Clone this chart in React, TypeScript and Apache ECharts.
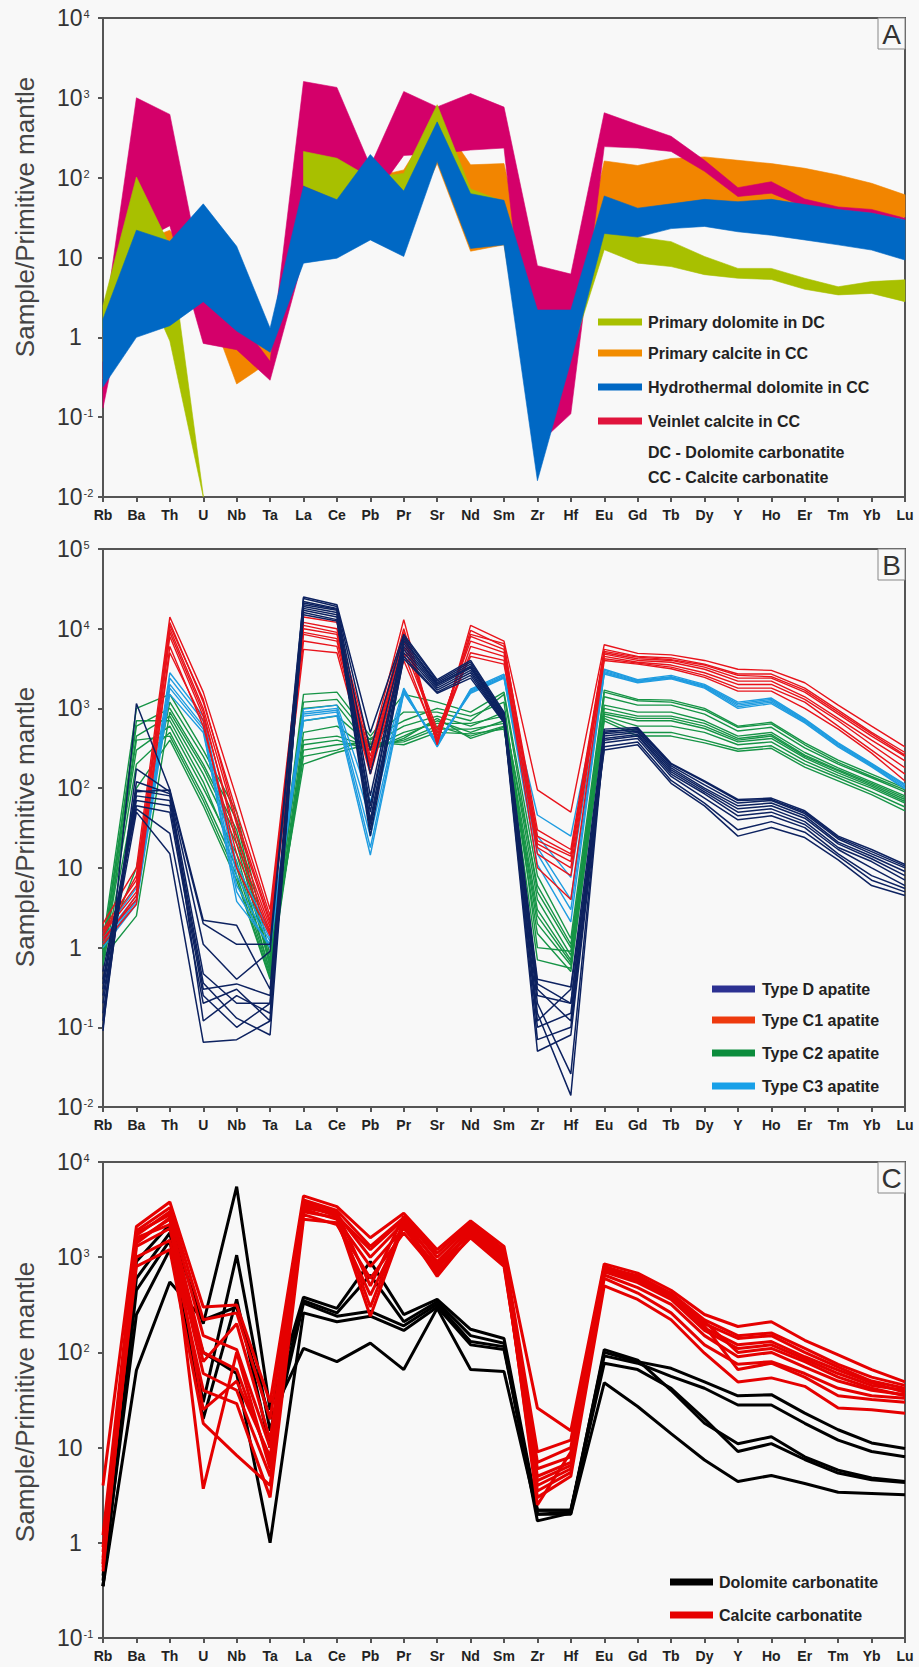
import React, { useEffect, useRef } from "react";
import * as echarts from "echarts";

const ELEMENTS = ["Rb","Ba","Th","U","Nb","Ta","La","Ce","Pb","Pr","Sr","Nd","Sm","Zr","Hf","Eu","Gd","Tb","Dy","Y","Ho","Er","Tm","Yb","Lu"];

// ---------- Panel A : envelopes (low / high) ----------
const dolDC_low  = [0.5, 8, 0.9, 0.01, null, null, 80, 52, 30, 67, 200, 50, 40, 0.05, 0.6, 12.5, 8.5, 7.7, 6.1, 5.5, 5.3, 4, 3.4, 3.55, 2.8];
const dolDC_high = [2.5, 102, 14, 0.0105, null, null, 213, 175, 100, 113, 820, 72, 50, 1, 2, 20, 18, 15.8, 10.3, 7.3, 7.3, 5.5, 4.3, 5, 5.25];
const calCC_low  = [0.3, 3, 2, 3.5, 0.26, 0.5, 10, 12, 20, 20, 150, 12, 14.4, 0.05, 0.6, 17, 18, 24.5, 30, 35, 38, 35, 32, 30, 32];
const calCC_high = [1, 15, 22, 6, 1.5, 1, 120, 100, 100, 125, 600, 145, 150, 2, 2, 162, 142, 174, 182, 165, 150, 131, 108, 85, 61];
const hydCC_low  = [0.24, 1.0, 1.4, 2.8, 1.2, 0.65, 8.5, 9.8, 16.6, 10.3, 160, 13, 14.4, 0.016, 0.5, 20, 18, 23, 24.5, 21, 19, 16.6, 14.4, 12.4, 9.3];
const hydCC_high = [1.7, 22, 16, 47, 13.8, 1.3, 78, 53, 195, 68, 500, 63, 52, 2.2, 2.2, 59, 41.5, 47, 53.5, 50, 53.5, 46, 40, 36, 29.5];
const veinCC_low  = [0.13, 15, 25, 0.84, 0.7, 0.29, 10, 20, 50, 190, 200, 222, 235, 0.045, 0.11, 245, 235, 213, 120, 58, 64, 43, 40, 36, 29.5];
const veinCC_high = [1.2, 1000, 620, 5, 1.8, 0.5, 1600, 1350, 140, 1200, 770, 1130, 765, 7.9, 6.2, 650, 460, 330, 165, 75, 89, 54, 43, 40, 31];

// ---------- Panel B : apatite ----------
const typeD = [
  [0.09, 1150, 96, 2.2, 1.9, 0.3, 25000, 20000, 500, 8500, 2300, 4000, 900, 0.4, 0.32, 550, 575, 205, 123, 72, 75, 52, 25, 17, 11],
  [0.1, 175, 90, 2.0, 1.1, 1.1, 24000, 19000, 300, 8000, 2200, 3800, 850, 0.3, 0.12, 500, 560, 190, 110, 65, 70, 48, 23, 15, 10],
  [0.12, 120, 85, 1.1, 0.4, 0.9, 22000, 18000, 150, 7000, 2100, 3600, 800, 0.25, 0.2, 480, 520, 180, 100, 60, 65, 45, 21, 14, 9],
  [0.15, 95, 80, 0.47, 0.2, 0.2, 20000, 17000, 80, 6500, 2000, 3400, 780, 0.2, 0.026, 450, 500, 170, 95, 55, 60, 42, 20, 13, 8],
  [0.2, 80, 70, 0.36, 0.13, 0.08, 19000, 16000, 60, 6000, 1900, 3200, 750, 0.15, 0.014, 420, 470, 160, 90, 50, 55, 38, 18, 12, 7],
  [0.3, 70, 60, 0.3, 0.35, 0.25, 18000, 15000, 40, 5500, 1800, 3000, 720, 0.1, 0.15, 400, 450, 150, 85, 45, 50, 35, 17, 10, 6],
  [0.4, 60, 50, 0.25, 0.1, 0.2, 17000, 14000, 30, 5000, 1700, 2800, 700, 0.07, 0.1, 370, 420, 140, 75, 40, 45, 32, 15, 8, 5.5],
  [0.5, 55, 27, 0.2, 0.3, 0.12, 16000, 13000, 25, 4500, 1600, 2600, 680, 0.05, 0.08, 330, 380, 125, 65, 30, 38, 28, 14, 7, 5],
  [0.25, 50, 15, 0.065, 0.07, 0.12, 15000, 12500, 35, 4200, 1550, 2400, 660, 0.12, 0.3, 300, 350, 115, 60, 25, 32, 24, 12.6, 6, 4.5],
  [0.35, 90, 95, 0.12, 0.25, 0.15, 21000, 17500, 50, 7500, 2000, 3300, 850, 0.35, 0.2, 520, 540, 200, 120, 70, 72, 50, 24, 16, 10.5],
];
const typeC1 = [
  [2.0, 10, 14000, 1600, 75, 3, 14000, 12000, 300, 13000, 350, 11000, 7000, 95, 50, 6300, 4900, 4700, 4000, 3100, 3000, 2100, 1100, 600, 330],
  [1.7, 7, 12000, 1200, 50, 2.5, 12000, 10000, 250, 10000, 400, 9500, 6000, 30, 17, 5500, 4500, 4300, 3600, 2700, 2700, 1800, 950, 500, 280],
  [1.5, 5, 10000, 1000, 35, 2, 10000, 8500, 200, 8000, 450, 8000, 5500, 25, 15, 5000, 4200, 4000, 3300, 2400, 2400, 1600, 850, 450, 250],
  [1.3, 4, 8000, 800, 25, 1.8, 8500, 7000, 180, 6000, 500, 7000, 5000, 20, 12, 4800, 4000, 3800, 3100, 2200, 2200, 1400, 750, 400, 220],
  [1.1, 3.5, 6000, 600, 15, 1.5, 7000, 6000, 160, 5000, 380, 6000, 4500, 15, 8, 4500, 3800, 3500, 2800, 2000, 2000, 1300, 700, 350, 180],
  [1.2, 4.5, 5000, 700, 10, 1.4, 5500, 5000, 150, 4000, 420, 5000, 4000, 10, 4, 4000, 3600, 3150, 2450, 1650, 1650, 1000, 550, 275, 123],
  [1.6, 6, 11000, 1300, 40, 2.2, 11000, 9000, 220, 9000, 360, 8500, 6500, 22, 14, 5200, 4400, 4100, 3500, 2600, 2500, 1700, 900, 480, 260],
  [1.4, 8, 9000, 900, 20, 1.6, 9000, 7500, 190, 7000, 550, 4500, 3600, 18, 10, 4200, 3700, 3300, 2600, 1800, 1800, 1200, 600, 300, 150],
];
const typeC2 = [
  [1.2, 1000, 1500, 300, 50, 0.8, 1500, 1600, 450, 1500, 1200, 900, 1600, 8, 1.3, 1700, 1300, 1270, 1000, 600, 670, 370, 225, 150, 100],
  [1.0, 600, 1000, 200, 30, 0.7, 1200, 1300, 400, 900, 900, 700, 1500, 5, 1.0, 1400, 1100, 1100, 850, 520, 580, 320, 200, 135, 90],
  [0.9, 450, 800, 150, 20, 0.6, 700, 800, 350, 600, 800, 600, 900, 4, 0.8, 1100, 900, 900, 700, 450, 500, 280, 180, 120, 80],
  [0.8, 300, 600, 100, 15, 0.5, 500, 600, 300, 450, 700, 500, 700, 3, 0.7, 900, 750, 750, 600, 400, 450, 250, 165, 110, 72],
  [0.7, 200, 500, 80, 10, 0.45, 400, 450, 330, 400, 600, 450, 600, 2, 0.6, 800, 600, 600, 500, 350, 380, 220, 145, 100, 65],
  [0.6, 100, 400, 60, 7, 0.4, 300, 350, 380, 350, 500, 480, 550, 1.5, 0.5, 700, 450, 450, 370, 290, 316, 183, 123, 83, 52],
  [0.85, 10, 1200, 250, 40, 0.55, 250, 300, 420, 700, 1000, 800, 1200, 1, 0.9, 1600, 1250, 1200, 950, 580, 640, 350, 210, 140, 95],
  [0.75, 2.5, 900, 180, 25, 0.65, 200, 280, 360, 380, 550, 550, 650, 0.7, 0.55, 750, 500, 500, 400, 310, 340, 200, 135, 90, 58],
  [0.95, 700, 700, 120, 12, 0.5, 1000, 1100, 320, 500, 650, 650, 800, 6, 1.1, 1000, 800, 800, 650, 420, 470, 260, 170, 115, 76],
  [0.65, 400, 450, 70, 8, 0.42, 350, 400, 300, 420, 750, 420, 580, 2.5, 0.65, 850, 700, 700, 560, 380, 420, 240, 155, 105, 68],
];
const typeC3 = [
  [1.5, 5.6, 2800, 800, 11, 1.5, 980, 1100, 68, 1800, 330, 1750, 2700, 46, 25, 3100, 2300, 2600, 2000, 1200, 1350, 740, 370, 205, 112],
  [1.3, 4.5, 2400, 700, 8, 1.3, 900, 1000, 40, 1700, 350, 1700, 2600, 25, 7.6, 3000, 2250, 2500, 1950, 1150, 1300, 720, 360, 200, 110],
  [1.2, 4, 2000, 600, 6, 1.2, 850, 950, 25, 1650, 340, 1650, 2500, 18, 4, 2900, 2200, 2450, 1900, 1100, 1250, 700, 350, 195, 105],
  [1.1, 3.8, 1800, 550, 3.8, 1.1, 800, 900, 18, 1600, 360, 1600, 2450, 11, 2.1, 2800, 2150, 2400, 1850, 1050, 1200, 680, 340, 190, 100],
  [1.0, 3.5, 1500, 500, 5, 1.0, 700, 810, 14.5, 1550, 380, 1550, 2400, 15, 3, 2700, 2100, 2350, 1800, 1000, 1150, 660, 330, 185, 98],
];

// ---------- Panel C : whole rocks ----------
const dolomiteCarb = [
  [0.35, 900, 2200, 200, 5500, 25, 380, 290, 900, 250, 360, 175, 140, 2.2, 2.2, 100, 80, 68, 49, 35, 36, 23, 15.4, 11.2, 9.8],
  [0.4, 600, 1800, 30, 1050, 15, 350, 260, 650, 210, 340, 150, 125, 2.0, 2.1, 92, 77, 56, 42, 28, 28, 18, 12, 9.1, 8],
  [0.35, 450, 1500, 20, 360, 10, 330, 240, 270, 190, 320, 130, 115, 1.7, 2.05, 107, 83, 40, 18, 11, 13, 8, 5.8, 4.8, 4.4],
  [0.45, 250, 1200, 100, 60, 1.0, 260, 210, 240, 170, 300, 120, 107, 2.2, 2.2, 77, 66, 42, 20, 9.1, 11, 7.5, 5.4, 4.6, 4.3],
  [0.35, 65, 550, 220, 300, 20, 110, 80, 125, 66, 290, 66, 63, 2.0, 2.0, 48, 27, 14, 7.4, 4.4, 5.1, 4.2, 3.4, 3.3, 3.2],
];
const calciteCarb = [
  [4, 2100, 3800, 300, 315, 30, 4400, 3400, 1600, 2900, 1200, 2400, 1300, 26, 15, 850, 680, 450, 250, 187, 210, 134, 94, 66, 49],
  [1.2, 1900, 3300, 220, 260, 20, 4000, 3100, 1300, 2600, 1000, 2200, 1150, 9, 12, 800, 620, 420, 220, 150, 160, 110, 75, 55, 45],
  [0.9, 1700, 3000, 150, 107, 10, 3600, 2800, 1000, 2300, 900, 2000, 1000, 7, 10, 750, 580, 390, 200, 140, 150, 100, 70, 50, 42],
  [0.7, 1500, 2500, 100, 66, 7, 3200, 2500, 800, 2000, 800, 1800, 900, 6, 8, 700, 540, 360, 170, 110, 120, 85, 60, 45, 40],
  [0.5, 1300, 2000, 60, 40, 5, 2800, 2200, 600, 1800, 700, 1600, 800, 5, 7, 650, 480, 320, 150, 90, 100, 70, 50, 40, 36],
  [0.6, 1000, 1500, 40, 29, 3, 2500, 2300, 400, 2100, 630, 1700, 850, 4, 6, 600, 420, 260, 120, 75, 80, 60, 42, 35, 33],
  [0.8, 800, 1200, 18, 8.3, 4, 3000, 2600, 240, 2200, 750, 1900, 950, 3, 5, 500, 360, 220, 98, 49, 54, 44, 26, 25, 23],
  [0.6, 1800, 2800, 3.7, 100, 6, 3500, 2700, 1200, 2500, 850, 2100, 1100, 2.5, 9, 800, 600, 400, 190, 66, 77, 55, 35, 32, 30],
  [0.55, 1600, 2200, 80, 200, 12, 3800, 3000, 500, 2700, 1100, 2300, 1200, 3.5, 5.5, 720, 560, 380, 180, 120, 130, 90, 65, 48, 38],
  [0.65, 1400, 2600, 25, 50, 8, 3300, 2900, 300, 2400, 650, 2000, 1050, 4.5, 6.5, 780, 640, 410, 210, 100, 110, 80, 55, 42, 35],
];

const LEGEND_A = ["Primary dolomite in DC", "Primary calcite in CC", "Hydrothermal dolomite in CC", "Veinlet calcite in CC"];
const LEGEND_A_NOTES = ["DC - Dolomite carbonatite", "CC - Calcite carbonatite"];
const LEGEND_B = ["Type D apatite", "Type C1 apatite", "Type C2 apatite", "Type C3 apatite"];
const LEGEND_C = ["Dolomite carbonatite", "Calcite carbonatite"];
const Y_TITLE = "Sample/Primitive mantle";
const PANEL_LETTERS = ["A", "B", "C"];

const FONT = "'Liberation Sans', Arial, Helvetica, sans-serif";

const GRIDS = [
  { top: 18, height: 479, min: 0.01, max: 10000 },
  { top: 549, height: 558, min: 0.01, max: 100000 },
  { top: 1162, height: 476, min: 0.1, max: 10000 },
];
const GLEFT = 103;
const GWIDTH = 802;

function bandSeries(low: (number | null)[], high: (number | null)[], color: string, z: number) {
  return {
    type: "custom",
    coordinateSystem: "cartesian2d",
    xAxisIndex: 0,
    yAxisIndex: 0,
    silent: true,
    z,
    data: [[0, 1]],
    renderItem: (_p: any, api: any) => {
      const children: any[] = [];
      let seg: number[] = [];
      const flush = () => {
        if (seg.length > 1) {
          const top = seg.map((i) => api.coord([i, high[i]]));
          const bot = seg.slice().reverse().map((i) => api.coord([i, low[i]]));
          children.push({
            type: "polygon",
            shape: { points: top.concat(bot) },
            style: { fill: color, stroke: color, lineWidth: 0.6 },
          });
        }
        seg = [];
      };
      for (let i = 0; i < ELEMENTS.length; i++) {
        if (low[i] == null || high[i] == null) flush();
        else seg.push(i);
      }
      flush();
      return { type: "group", children };
    },
  };
}

function lineSeries(rows: number[][], color: string, width: number, idx: number, z: number) {
  return rows.map((r) => ({
    type: "line",
    xAxisIndex: idx,
    yAxisIndex: idx,
    data: r,
    symbol: "none",
    silent: true,
    z,
    lineStyle: { color, width },
  }));
}

export default function App() {
  const ref = useRef<HTMLDivElement>(null);
  useEffect(() => {
    document.body.style.margin = "0";
    document.body.style.background = "#f8f8f8";
    const chart = echarts.init(ref.current!, null, { renderer: "svg" });

    const axisColor = "#555";
    const xAxes = GRIDS.map((_, i) => ({
      type: "category",
      gridIndex: i,
      data: ELEMENTS,
      boundaryGap: false,
      axisLine: { show: true, lineStyle: { color: axisColor, width: 2 } },
      axisTick: { show: true, length: 5, interval: 0, lineStyle: { color: axisColor, width: 2 } },
      axisLabel: { interval: 0, margin: 11, fontSize: 14, fontWeight: "bold", color: "#222", fontFamily: FONT },
      splitLine: { show: false },
    }));
    const yAxes = GRIDS.map((g, i) => ({
      type: "log",
      logBase: 10,
      gridIndex: i,
      min: g.min,
      max: g.max,
      axisLine: { show: true, lineStyle: { color: axisColor, width: 2 } },
      axisTick: { show: true, length: 5, lineStyle: { color: axisColor, width: 2 } },
      minorTick: { show: false },
      splitLine: { show: false },
      axisLabel: {
        margin: 46,
        align: "left",
        color: "#333",
        fontSize: 23,
        fontFamily: FONT,
        formatter: (v: number) => {
          const e = Math.round(Math.log10(v));
          if (e === 0) return "{one|1}";
          if (e === 1) return "{b|10}";
          return `{b|10}{s|${e}}`;
        },
        rich: {
          b: { fontSize: 23, color: "#333", fontFamily: FONT, verticalAlign: "bottom" },
          one: { fontSize: 23, color: "#333", fontFamily: FONT, verticalAlign: "bottom", padding: [0, 0, 0, 12] },
          s: { fontSize: 11, color: "#333", fontFamily: FONT, verticalAlign: "bottom", padding: [0, 0, 10, 1] },
        },
      },
    }));

    const graphic: any[] = [];
    const titleY = [217, 827, 1402];
    titleY.forEach((y) => {
      graphic.push({
        type: "text",
        x: 25,
        y,
        rotation: Math.PI / 2,
        style: { text: Y_TITLE, fill: "#444", font: `26px ${FONT}`, textAlign: "center", textVerticalAlign: "middle" },
      });
    });
    GRIDS.forEach((g, i) => {
      graphic.push({
        type: "rect",
        shape: { x: 878, y: g.top, width: 27, height: 31 },
        style: { fill: "#f8f8f8", stroke: "#888", lineWidth: 1 },
        z: 100,
      });
      graphic.push({
        type: "text",
        x: 891.5,
        y: g.top + 16,
        z: 101,
        style: { text: PANEL_LETTERS[i], fill: "#333", font: `28px ${FONT}`, textAlign: "center", textVerticalAlign: "middle" },
      });
    });
    const legendItem = (x0: number, len: number, tx: number, y: number, color: string, label: string) => {
      graphic.push({ type: "rect", shape: { x: x0, y: y - 3.5, width: len, height: 7 }, style: { fill: color }, z: 100 });
      graphic.push({
        type: "text", x: tx, y, z: 100,
        style: { text: label, fill: "#222", font: `bold 16px ${FONT}`, textVerticalAlign: "middle" },
      });
    };
    const colA = ["#a8c000", "#f28c00", "#0068c4", "#e0143c"];
    [322, 353, 387, 421].forEach((y, i) => legendItem(598, 44, 648, y, colA[i], LEGEND_A[i]));
    [452, 477].forEach((y, i) =>
      graphic.push({ type: "text", x: 648, y, z: 100, style: { text: LEGEND_A_NOTES[i], fill: "#222", font: `bold 16px ${FONT}`, textVerticalAlign: "middle" } })
    );
    const colB = ["#2c3192", "#ee3a0e", "#0b8c3c", "#18a0e8"];
    [989, 1020, 1053, 1086].forEach((y, i) => legendItem(712, 43, 762, y, colB[i], LEGEND_B[i]));
    const colC = ["#000000", "#e60000"];
    [1582, 1615].forEach((y, i) => legendItem(670, 43, 719, y, colC[i], LEGEND_C[i]));

    const series: any[] = [
      bandSeries(calCC_low, calCC_high, "#f28500", 1),
      bandSeries(veinCC_low, veinCC_high, "#d4006a", 2),
      bandSeries(dolDC_low, dolDC_high, "#a8c000", 3),
      bandSeries(hydCC_low, hydCC_high, "#0068c4", 4),
      ...lineSeries(typeC2, "#169446", 1.4, 1, 2),
      ...lineSeries(typeC3, "#1f9ce0", 1.4, 1, 3),
      ...lineSeries(typeC1, "#e8131b", 1.4, 1, 4),
      ...lineSeries(typeD, "#0d2260", 1.5, 1, 5),
      ...lineSeries(dolomiteCarb, "#000000", 3, 2, 2),
      ...lineSeries(calciteCarb, "#e50000", 3, 2, 3),
    ];

    chart.setOption({
      animation: false,
      backgroundColor: "#f8f8f8",
      grid: GRIDS.map((g) => ({
        left: GLEFT, top: g.top, width: GWIDTH, height: g.height,
        show: true, borderColor: axisColor, borderWidth: 2, backgroundColor: "transparent",
      })),
      xAxis: xAxes,
      yAxis: yAxes,
      series,
      graphic,
    });
    return () => chart.dispose();
  }, []);
  return <div ref={ref} style={{ width: 919, height: 1667, background: "#f8f8f8" }} />;
}
